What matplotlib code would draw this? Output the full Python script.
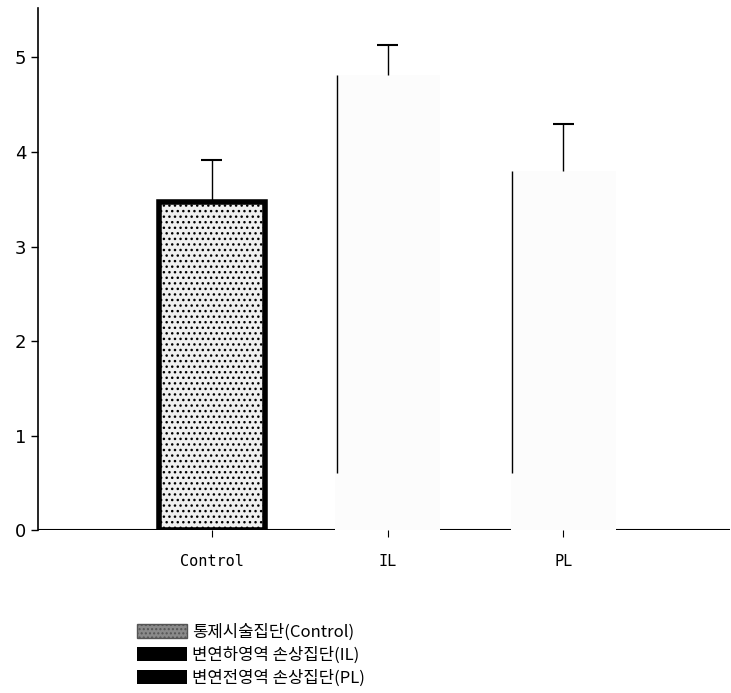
import matplotlib.pyplot as plt
from matplotlib.patches import Patch

plt.rcParams['font.family'] = ['Noto Sans CJK KR', 'DejaVu Sans']

groups = ['Control', 'IL', 'PL']
means = [3.47, 4.81, 3.80]
errs = [0.45, 0.32, 0.50]
legend_labels = ['통제시술집단(Control)', '변연하영역 손상집단(IL)', '변연전영역 손상집단(PL)']

fig = plt.figure(figsize=(7.31, 6.93), dpi=100)
ax = fig.add_axes([0.052, 0.235, 0.947, 0.753])

x = list(range(len(groups)))
w = 0.6

# baseline behind the bars, bars hide it
ax.axhline(0, color='black', lw=1.5, zorder=0.5)

ax.bar(x[0], means[0], width=w, color='#efefef', edgecolor='black',
       linewidth=4, hatch='...', zorder=1)
ax.bar(x[1:], means[1:], width=w, color='#fcfcfc', edgecolor='none', zorder=1)
# thin left edge on IL / PL bars
for xi, m in zip(x[1:], means[1:]):
    ax.vlines(xi - w / 2 + 0.01, 0.6, m, color='black', lw=1, zorder=2)

# upper error bars only, cap on top
tops = [m + e for m, e in zip(means, errs)]
ax.vlines(x, means, tops, color='black', lw=1, zorder=3)
ax.hlines(tops, [xi - 0.06 for xi in x], [xi + 0.06 for xi in x],
          color='black', lw=1.5, zorder=3)

ax.set_xlim(-0.99, 2.95)
ax.set_ylim(0, 5.52)
ax.set_yticks([0, 1, 2, 3, 4, 5])
ax.set_xticks(x)
ax.set_xticklabels(groups, family='DejaVu Sans Mono', fontsize=11)
for lab in ax.get_yticklabels():
    lab.set_fontfamily('DejaVu Sans')
    lab.set_fontsize(13)
ax.tick_params(axis='x', length=5, pad=12)
ax.tick_params(axis='y', length=5, width=1)

for s in ['top', 'right', 'bottom']:
    ax.spines[s].set_visible(False)
ax.spines['left'].set_linewidth(1.2)

handles = [Patch(facecolor='#8a8a8a', edgecolor='#555555', hatch='....'),
           Patch(facecolor='black'),
           Patch(facecolor='black')]
fig.legend(handles, legend_labels, loc='upper left', bbox_to_anchor=(0.187, 0.1),
           frameon=False, fontsize=12, handlelength=3.0, handleheight=0.9,
           handletextpad=0.3, labelspacing=0.35, borderpad=0, borderaxespad=0)

fig.savefig('out.png', dpi=100)
